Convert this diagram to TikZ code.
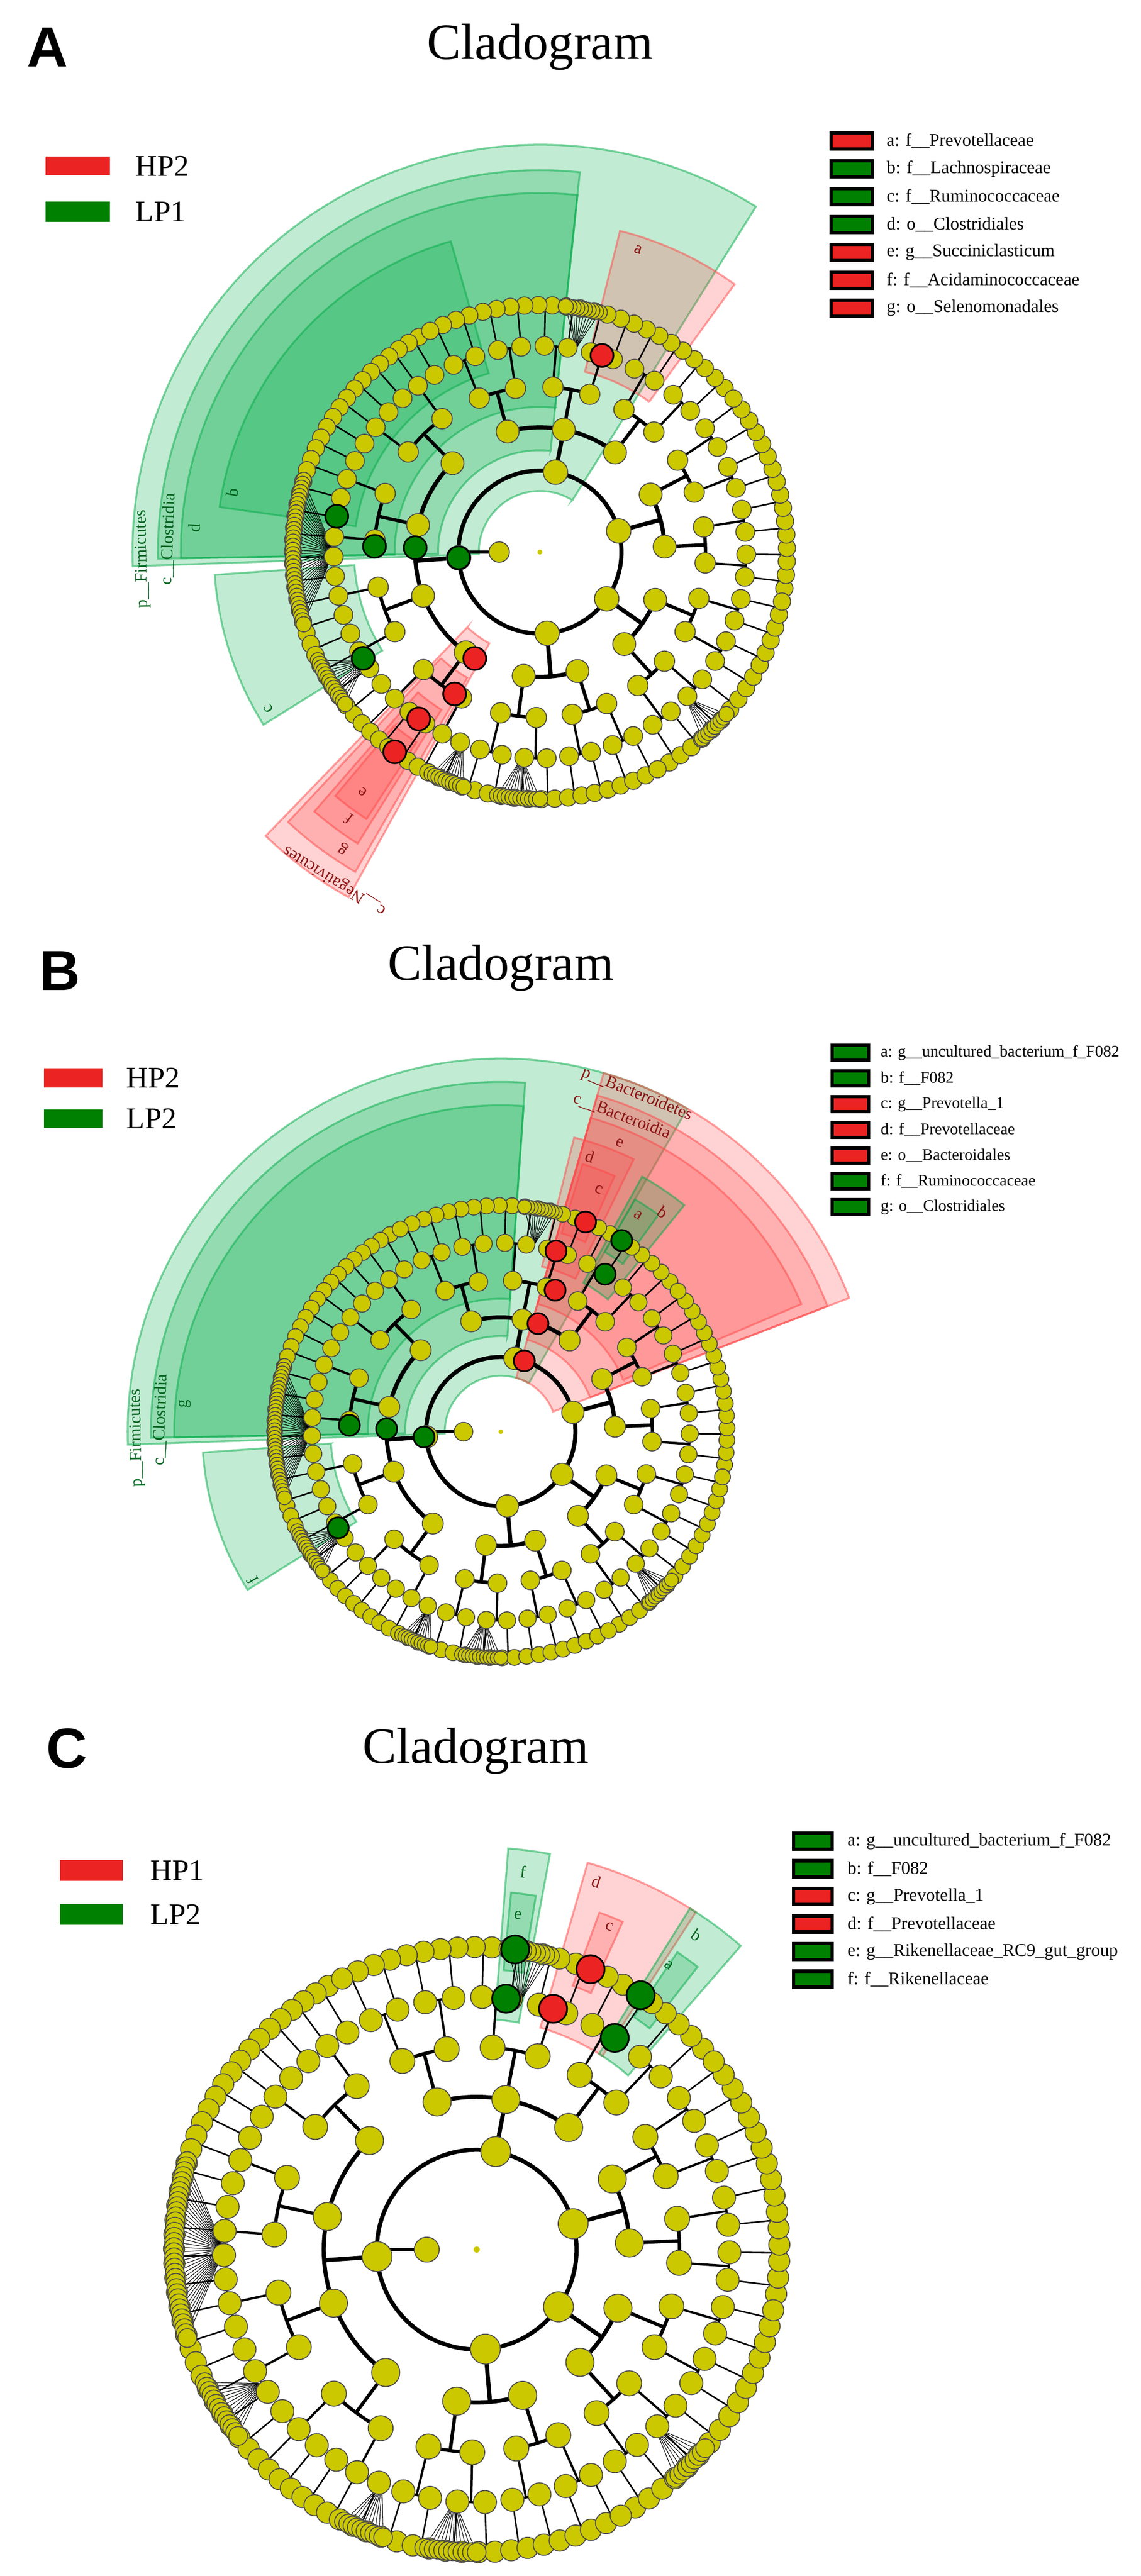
\documentclass[tikz,border=0pt]{standalone}
\usepackage{fontspec}
\setmainfont{Liberation Serif}
\newfontfamily\lettf{Liberation Sans}
\definecolor{ycol}{RGB}{204,200,0}
\definecolor{gred}{RGB}{235,35,35}
\definecolor{ggreen}{RGB}{0,128,0}
\definecolor{wgreen}{RGB}{0,170,70}
\definecolor{wred}{RGB}{255,70,70}
\definecolor{lgreen}{RGB}{0,100,30}
\definecolor{lred}{RGB}{140,20,20}
\newif\ifnodemode
\def\rA{0.32}\def\rB{0.49}\def\rC{0.65}\def\rD{0.81}\def\rE{0.97}
\newcommand\ynode[3]{\filldraw[fill=ycol,draw=black!70,line width=.5pt] ({#1}:{#2*\R}) circle[radius={#3*\R}];}
\newcommand\cnode[3]{\filldraw[fill=#3,draw=black,line width=.9pt] ({#1}:{#2*\R}) circle[radius={0.045*\R}];}
\newcommand\level[7]{%
 \pgfmathsetmacro\lm{(#1+#2)/2}%
 \pgfmathtruncatemacro\nk{max(1,round((#2-#1)/#5))}%
 \pgfmathsetmacro\ks{(#2-#1)/\nk}%
 \ifnodemode\ynode{\lm}{#3}{#6}\else
  \draw[#7] (\lm:{#3*\R}) -- (\lm:{#4*\R});
  \ifnum\nk>1 \draw[#7] ({#1+\ks/2}:{#4*\R}) arc[start angle={#1+\ks/2}, end angle={#2-\ks/2}, radius={#4*\R}];\fi
 \fi}
\newcommand\treebody{%
 \ifnodemode\else
  \draw[l1] (0,0) circle[radius={\rA*\R}];
  \draw[l2] (180:{0.16*\R}) -- (180:{\rA*\R});
  \foreach \fc/\fs/\fn in \fans {%
   \pgfmathtruncatemacro\fnm{\fn-1}%
   \foreach \k in {0,...,\fnm} {\draw[black,line width=.3pt] (\fc:{\rD*\R}) -- ({\fc-\fs/2+\k*\fs/\fnm}:{\rE*\R});}}
 \fi
 \foreach \pa/\pb/\nc in \phyla {%
  \pgfmathsetmacro\pw{(\pb-\pa)/\nc}%
  \level{\pa}{\pb}{\rA}{\rB}{\pw}{0.048}{l1}%
  \foreach \ci in {1,...,\nk} {%
   \pgfmathsetmacro\ca{\pa+(\ci-1)*\ks}\pgfmathsetmacro\cb{\ca+\ks}%
   \level{\ca}{\cb}{\rB}{\rC}{14}{0.045}{l2}%
   \foreach \oi in {1,...,\nk} {%
    \pgfmathsetmacro\oa{\ca+(\oi-1)*\ks}\pgfmathsetmacro\ob{\oa+\ks}%
    \level{\oa}{\ob}{\rC}{\rD}{5.5}{0.04}{l3}%
    \foreach \fj in {1,...,\nk} {%
     \pgfmathsetmacro\fa{\oa+(\fj-1)*\ks}\pgfmathsetmacro\fb{\fa+\ks}%
     \level{\fa}{\fb}{\rD}{\rE}{2.8}{0.037}{l4}%
     \ifnodemode
      \foreach \gj in {1,...,\nk} {\ynode{\fa+(\gj-0.5)*\ks}{\rE}{0.034}}%
     \fi
    }}}}
 \ifnodemode
  \ynode{180}{0.16}{0.04}
  \fill[ycol] (0,0) circle[radius={0.01*\R}];
  \foreach \fc/\fs/\fn in \fans {%
   \pgfmathtruncatemacro\fnm{\fn-1}%
   \foreach \k in {0,...,\fnm} {\ynode{\fc-\fs/2+\k*\fs/\fnm}{\rE}{0.03}}}
 \fi}
\newcommand\treedraw{\nodemodefalse\treebody\nodemodetrue\treebody}
\newcommand\wdg[5]{\path[fill=#5,fill opacity=.24,draw=#5,draw opacity=.5,line width=1pt] (#1:{#3*\R}) -- (#1:{#4*\R}) arc[start angle=#1,end angle=#2,radius={#4*\R}] -- (#2:{#3*\R}) arc[start angle=#2,end angle=#1,radius={#3*\R}] -- cycle;}
\newcommand\wlab[4]{\node[text=#4,font=\fontsize{9}{10}\selectfont,rotate={#1-90},inner sep=0pt] at (#1:{#2*\R}) {#3};}
\def\phyla{118/250/4, 40/118/3, -10/40/2, -60/-10/2, -110/-60/2}
\def\fans{180/34/36, 212/12/14, 80/8/10, -45/8/9, -95/10/12, 248/8/10}
\begin{document}
\begin{tikzpicture}[x=1cm,y=1cm,
 l1/.style={black,line width=2.2pt},
 l2/.style={black,line width=1.8pt},
 l3/.style={black,line width=1.2pt},
 l4/.style={black,line width=.8pt},
 leg/.style={font=\fontsize{9.5}{11}\selectfont,anchor=west,inner sep=0pt},
 legs/.style={font=\fontsize{8.6}{10}\selectfont,anchor=west,inner sep=0pt},
 big/.style={font=\fontsize{16}{18}\selectfont,anchor=west,inner sep=0pt},
 ttl/.style={font=\fontsize{27}{30}\selectfont},
 let/.style={font=\lettf\bfseries\fontsize{30}{30}\selectfont}]
\useasboundingbox (0,0) rectangle (21.28,-48.06);
% ================= A =================
\node[let] (LA) at (0.89,-0.88) {A};
\node[ttl] (TA) at (10.07,-0.88) {Cladogram};
\fill[gred] (0.85,-2.92) rectangle (2.05,-3.27);
\fill[ggreen] (0.85,-3.76) rectangle (2.05,-4.14);
\node[big] at (2.52,-3.10) {HP2};
\node[big] at (2.52,-3.95) {LP1};
\foreach \t/\c [count=\k from 0] in {a: f\_\_Prevotellaceae/gred, b: f\_\_Lachnospiraceae/ggreen, c: f\_\_Ruminococcaceae/ggreen, d: o\_\_Clostridiales/ggreen, e: g\_\_Succiniclasticum/gred, f: f\_\_Acidaminococcaceae/gred, g: o\_\_Selenomonadales/gred} {
 \filldraw[fill=\c,draw=black,line width=1.8pt] (15.50,{-2.48-0.52*\k}) rectangle (16.27,{-2.78-0.52*\k});
 \node[leg] at (16.53,{-2.63-0.52*\k}) {\t};}
\begin{scope}[shift={(10.07,-10.30)}]
\def\R{4.75}
\wdg{58}{182}{0.24}{1.6}{wgreen}
\wdg{84}{181}{0.40}{1.5}{wgreen}
\wdg{84}{181}{0.57}{1.41}{wgreen}
\wdg{106}{172}{0.73}{1.27}{wgreen}
\wdg{184}{212}{0.73}{1.28}{wgreen}
\wdg{54}{76}{0.73}{1.3}{wred}
\wdg{226}{241}{0.41}{1.55}{wred}
\wdg{227}{240}{0.57}{1.45}{wred}
\wdg{229}{238}{0.73}{1.35}{wred}
\wdg{230}{237}{0.89}{1.25}{wred}
\treedraw
\cnode{184}{0.32}{ggreen}\cnode{178}{0.49}{ggreen}\cnode{178}{0.65}{ggreen}
\cnode{170}{0.81}{ggreen}\cnode{211}{0.81}{ggreen}
\cnode{72.5}{0.81}{gred}\cnode{238.5}{0.49}{gred}\cnode{239}{0.65}{gred}
\cnode{234}{0.81}{gred}\cnode{234}{0.97}{gred}
\wlab{181}{1.56}{p\_\_Firmicutes}{lgreen}
\wlab{178}{1.46}{c\_\_Clostridia}{lgreen}
\wlab{176}{1.36}{d}{lgreen}
\wlab{169}{1.23}{b}{lgreen}
\wlab{210}{1.23}{c}{lgreen}
\wlab{72}{1.25}{a}{lred}
\wlab{238}{1.52}{c\_\_Negativicutes}{lred}
\wlab{236.5}{1.40}{g}{lred}
\wlab{234.5}{1.29}{f}{lred}
\wlab{233.5}{1.17}{e}{lred}
\end{scope}
% ================= B =================
\node[let] (LB) at (1.12,-18.11) {B};
\node[ttl] (TB) at (9.34,-18.06) {Cladogram};
\fill[gred] (0.82,-19.93) rectangle (1.91,-20.29);
\fill[ggreen] (0.82,-20.70) rectangle (1.91,-21.04);
\node[big] at (2.35,-20.11) {HP2};
\node[big] at (2.35,-20.87) {LP2};
\foreach \t/\c [count=\k from 0] in {a: g\_\_uncultured\_bacterium\_f\_F082/ggreen, b: f\_\_F082/ggreen, c: g\_\_Prevotella\_1/gred, d: f\_\_Prevotellaceae/gred, e: o\_\_Bacteroidales/gred, f: f\_\_Ruminococcaceae/ggreen, g: o\_\_Clostridiales/ggreen} {
 \filldraw[fill=\c,draw=black,line width=1.8pt] (15.52,{-19.50-0.48*\k}) rectangle (16.20,{-19.78-0.48*\k});
 \node[legs] at (16.42,{-19.64-0.48*\k}) {\t};}
\begin{scope}[shift={(9.34,-26.71)}]
\def\R{4.35}
\wdg{60}{182}{0.24}{1.6}{wgreen}
\wdg{86}{181}{0.41}{1.5}{wgreen}
\wdg{86}{181}{0.57}{1.4}{wgreen}
\wdg{184}{212}{0.73}{1.28}{wgreen}
\wdg{21}{74}{0.24}{1.6}{wred}
\wdg{21}{74}{0.41}{1.5}{wred}
\wdg{23}{74}{0.57}{1.4}{wred}
\wdg{64}{76}{0.73}{1.3}{wred}
\wdg{66}{73}{0.89}{1.2}{wred}
\wdg{51}{61}{0.73}{1.25}{wgreen}
\wdg{54}{60}{0.89}{1.15}{wgreen}
\treedraw
\cnode{184}{0.33}{ggreen}\cnode{178.6}{0.49}{ggreen}\cnode{177.6}{0.65}{ggreen}
\cnode{210.6}{0.81}{ggreen}\cnode{57.7}{0.97}{ggreen}\cnode{56.5}{0.81}{ggreen}
\cnode{71.7}{0.32}{gred}\cnode{71}{0.49}{gred}\cnode{69}{0.65}{gred}
\cnode{73}{0.81}{gred}\cnode{68}{0.97}{gred}
\wlab{181}{1.56}{p\_\_Firmicutes}{lgreen}
\wlab{178}{1.46}{c\_\_Clostridia}{lgreen}
\wlab{175}{1.36}{g}{lgreen}
\wlab{211}{1.24}{f}{lgreen}
\wlab{68}{1.56}{p\_\_Bacteroidetes}{lred}
\wlab{69}{1.45}{c\_\_Bacteroidia}{lred}
\wlab{67.6}{1.34}{e}{lred}
\wlab{72}{1.24}{d}{lred}
\wlab{68}{1.12}{c}{lred}
\wlab{53.6}{1.17}{b}{lred}
\wlab{57.6}{1.1}{a}{lred}
\end{scope}
% ================= C =================
\node[let] (LC) at (1.25,-32.62) {C};
\node[ttl] (TC) at (8.87,-32.67) {Cladogram};
\fill[gred] (1.12,-34.70) rectangle (2.29,-35.09);
\fill[ggreen] (1.12,-35.52) rectangle (2.29,-35.91);
\node[big] at (2.80,-34.90) {HP1};
\node[big] at (2.80,-35.72) {LP2};
\foreach \t/\c [count=\k from 0] in {a: g\_\_uncultured\_bacterium\_f\_F082/ggreen, b: f\_\_F082/ggreen, c: g\_\_Prevotella\_1/gred, d: f\_\_Prevotellaceae/gred, e: g\_\_Rikenellaceae\_RC9\_gut\_group/ggreen, f: f\_\_Rikenellaceae/ggreen} {
 \filldraw[fill=\c,draw=black,line width=1.8pt] (14.80,{-34.20-0.515*\k}) rectangle (15.52,{-34.50-0.515*\k});
 \node[leg] at (15.80,{-34.35-0.515*\k}) {\t};}
\begin{scope}[shift={(8.89,-41.97)}]
\def\R{5.82}
\wdg{79.5}{85.5}{0.74}{1.29}{wgreen}
\wdg{80.5}{84.5}{0.9}{1.15}{wgreen}
\wdg{57}{74}{0.74}{1.29}{wred}
\wdg{66}{70}{0.9}{1.15}{wred}
\wdg{49}{58}{0.74}{1.29}{wgreen}
\wdg{52}{56}{0.9}{1.15}{wgreen}
\treedraw
\cnode{82.7}{0.97}{ggreen}\cnode{83.3}{0.81}{ggreen}
\cnode{56.9}{0.81}{ggreen}\cnode{57.2}{0.97}{ggreen}
\cnode{72.4}{0.81}{gred}\cnode{67.9}{0.97}{gred}
\wlab{83}{1.22}{f}{lgreen}
\wlab{83}{1.08}{e}{lgreen}
\wlab{72}{1.24}{d}{lred}
\wlab{67.7}{1.12}{c}{lred}
\wlab{55}{1.23}{b}{lgreen}
\wlab{56}{1.1}{a}{lgreen}
\end{scope}
\end{tikzpicture}
\end{document}
